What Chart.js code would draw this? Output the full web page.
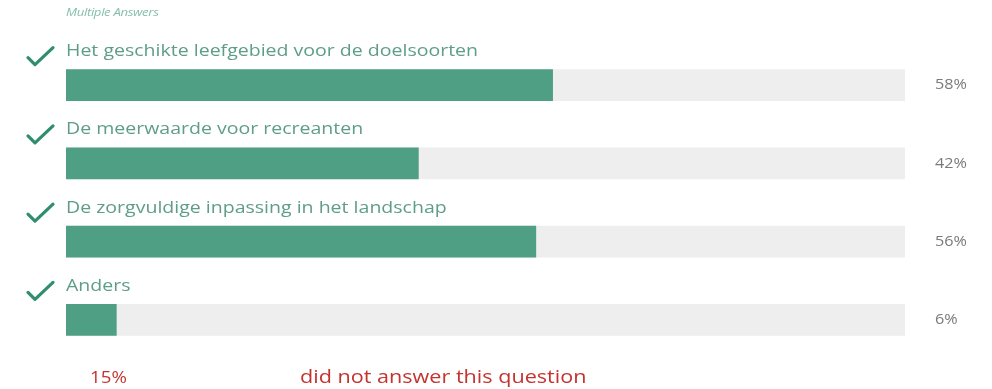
<!DOCTYPE html>
<html>
<head>
<meta charset="utf-8">
<script src="https://cdn.jsdelivr.net/npm/chart.js@4/dist/chart.umd.min.js"></script>
<style>
  html, body { margin: 0; padding: 0; background: #fff; }
  #wrap { position: relative; width: 992px; height: 389px; overflow: hidden; }
  canvas { position: absolute; left: 0; top: 0; }
  .t { position: absolute; transform-origin: left center; transform: scaleX(1.2); white-space: nowrap; }
  #sub { left: 66px; top: 4px; font: italic 11px "Open Sans", sans-serif; color: #86bfae; letter-spacing: -0.3px; }
  #foot1 { left: 90px; top: 365px; font: 17px "Open Sans", sans-serif; color: #c4342f; transform: scaleX(1.1); }
  #foot2 { left: 300px; top: 364px; font: 18px "Open Sans", sans-serif; color: #c4342f; }
</style>
</head>
<body>
<div id="wrap">
  <canvas id="c" width="992" height="389"></canvas>
  <div id="sub" class="t">Multiple Answers</div>
  <div id="foot1" class="t">15%</div>
  <div id="foot2" class="t">did not answer this question</div>
</div>
<script>
const categories = [
  "Het geschikte leefgebied voor de doelsoorten",
  "De meerwaarde voor recreanten",
  "De zorgvuldige inpassing in het landschap",
  "Anders"
];
const percentages = [58, 42, 56, 6];
const trackValues = [100, 100, 100, 100];

const labelPlugin = {
  id: 'labels',
  afterDatasetsDraw(chart) {
    const ctx = chart.ctx;
    const meta = chart.getDatasetMeta(0);
    const area = chart.chartArea;
    ctx.save();
    meta.data.forEach((bar, i) => {
      const top = bar.y - bar.height / 2;
      // category label (horizontally stretched like the reference)
      ctx.save();
      ctx.font = '16px "Open Sans", sans-serif';
      ctx.fillStyle = '#5e9e86';
      ctx.textAlign = 'left';
      ctx.textBaseline = 'middle';
      ctx.translate(area.left, top - 18);
      ctx.scale(1.22, 1);
      ctx.fillText(categories[i], 0, 0);
      ctx.restore();
      // check mark
      ctx.strokeStyle = '#2f8e6c';
      ctx.lineWidth = 3.2;
      ctx.lineCap = 'round';
      ctx.lineJoin = 'round';
      ctx.beginPath();
      ctx.moveTo(28, top - 12);
      ctx.lineTo(35, top - 5);
      ctx.lineTo(53, top - 22);
      ctx.stroke();
      // percentage
      ctx.save();
      ctx.font = '15px "Open Sans", sans-serif';
      ctx.fillStyle = '#7a7a7a';
      ctx.textAlign = 'left';
      ctx.textBaseline = 'middle';
      ctx.translate(935, bar.y);
      ctx.scale(1.08, 1);
      ctx.fillText(percentages[i] + '%', 0, 0);
      ctx.restore();
    });
    ctx.restore();
  }
};

new Chart(document.getElementById('c'), {
  type: 'bar',
  data: {
    labels: categories,
    datasets: [
      { data: percentages, backgroundColor: '#4f9f84', barThickness: 31, grouped: false, order: 0 },
      { data: trackValues, backgroundColor: '#eeeeee', barThickness: 31, grouped: false, order: 1 }
    ]
  },
  options: {
    indexAxis: 'y',
    responsive: false,
    animation: false,
    layout: { padding: { left: 66, right: 87, top: 46, bottom: 30 } },
    plugins: { legend: { display: false }, tooltip: { enabled: false } },
    scales: {
      x: { display: false, min: 0, max: 100 },
      y: { display: false }
    }
  },
  plugins: [labelPlugin]
});
</script>
</body>
</html>
